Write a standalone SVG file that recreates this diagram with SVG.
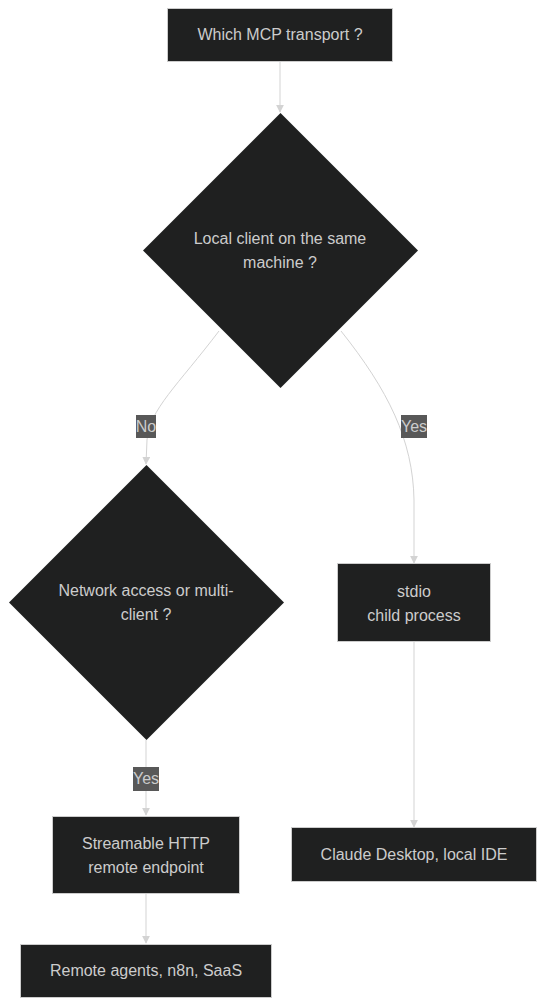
<svg xmlns="http://www.w3.org/2000/svg" width="546" height="1006" viewBox="0 0 546 1006">
<style>
.node{fill:#1f2020;stroke:#cccccc;stroke-width:1}
.dia{fill:#1f2020;stroke:none}
.t{font-family:"Liberation Sans",Arial,sans-serif;font-size:16px;fill:#cccccc;text-anchor:middle}
.edge{fill:none;stroke:#d3d3d3;stroke-width:1}
.lb{fill:#585858}
</style>
<defs>
<marker id="arr" viewBox="0 0 10 10" refX="9" refY="5" markerWidth="8" markerHeight="8" markerUnits="userSpaceOnUse" orient="auto">
<path d="M0,0 L10,5 L0,10 z" fill="#d3d3d3"/>
</marker>
</defs>
<rect width="546" height="1006" fill="#ffffff"/>
<g id="connectors">
<path class="edge" d="M280,61 L280,112" marker-end="url(#arr)"/>
<path class="edge" d="M219,331 C178,385 149,410 147,440 L146,464" marker-end="url(#arr)"/>
<path class="edge" d="M341,331 C388,390 413,440 414,500 L414,563" marker-end="url(#arr)"/>
<path class="edge" d="M146,740 L146,815" marker-end="url(#arr)"/>
<path class="edge" d="M414,642 L414,827" marker-end="url(#arr)"/>
<path class="edge" d="M146,893 L146,943" marker-end="url(#arr)"/>
<g id="label-no"><rect class="lb" x="136" y="415" width="20" height="23"/><text class="t" x="146" y="432">No</text></g>
<g id="label-yes1"><rect class="lb" x="401" y="415" width="26" height="23"/><text class="t" x="414" y="432">Yes</text></g>
<g id="label-yes2"><rect class="lb" x="133" y="767" width="26" height="24"/><text class="t" x="146" y="784">Yes</text></g>
</g>
<g id="n-start"><rect class="node" x="167.5" y="8.5" width="225" height="53"/><text class="t" x="280" y="40">Which MCP transport ?</text></g>
<g id="n-local"><polygon class="dia" points="280.5,113 418,250.5 280.5,388 143,250.5"/><text class="t" x="280" y="244">Local client on the same</text><text class="t" x="280" y="268">machine ?</text></g>
<g id="n-network"><polygon class="dia" points="146.5,465 284,602.5 146.5,740 9,602.5"/><text class="t" x="146" y="596">Network access or multi-</text><text class="t" x="146" y="620">client ?</text></g>
<g id="n-stdio"><rect class="node" x="337.5" y="563.5" width="153" height="78"/><text class="t" x="414" y="597">stdio</text><text class="t" x="414" y="621">child process</text></g>
<g id="n-claude"><rect class="node" x="291.5" y="827.5" width="245" height="54"/><text class="t" x="414" y="860">Claude Desktop, local IDE</text></g>
<g id="n-http"><rect class="node" x="52.5" y="816.5" width="187" height="77"/><text class="t" x="146" y="849">Streamable HTTP</text><text class="t" x="146" y="873">remote endpoint</text></g>
<g id="n-remote"><rect class="node" x="20.5" y="944.5" width="251" height="53"/><text class="t" x="146" y="976">Remote agents, n8n, SaaS</text></g>
</svg>
